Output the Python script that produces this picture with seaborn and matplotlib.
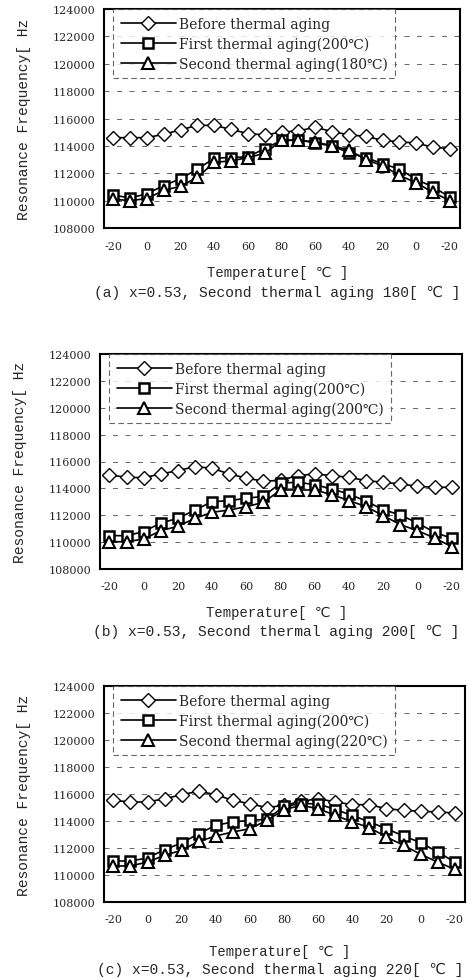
import matplotlib
matplotlib.use('Agg')
import matplotlib.pyplot as plt
import seaborn as sns
import pandas as pd
import numpy as np

sns.set_theme(style="white")
plt.rcParams['font.family'] = ['DejaVu Serif', 'DejaVu Sans']

MONO = ['Liberation Mono', 'DejaVu Sans Mono', 'DejaVu Sans']

# heating -20 -> 80, then cooling 70 -> -20
temps = [-20, -10, 0, 10, 20, 30, 40, 50, 60, 70, 80, 70, 60, 50, 40, 30, 20, 10, 0, -10, -20]
y_ticks = [108000, 110000, 112000, 114000, 116000, 118000, 120000, 122000, 124000]

# (a) second aging 180C
before_a = [114600, 114600, 114600, 114850, 115170, 115500, 115500, 115200, 114900, 114800, 115000,
            115100, 115350, 115050, 114800, 114700, 114400, 114300, 114200, 113900, 113800]
first_a = [110400, 110200, 110500, 111100, 111600, 112300, 113100, 113150, 113200, 113800, 114400,
           114450, 114200, 114000, 113500, 113150, 112700, 112300, 111550, 111000, 110250]
second_a = [110100, 110000, 110150, 110750, 111050, 111700, 112800, 112900, 113150, 113450, 114400,
            114400, 114300, 114000, 113700, 113000, 112550, 111850, 111300, 110600, 110000]

# (b) second aging 200C
before_b = [115000, 114820, 114800, 115070, 115320, 115620, 115500, 115070, 114770, 114530, 114600,
            114950, 115070, 114950, 114820, 114580, 114450, 114330, 114150, 114080, 114080]
first_b = [110480, 110480, 110780, 111420, 111770, 112390, 113010, 113090, 113260, 113410, 114400,
           114450, 114280, 113950, 113580, 113040, 112420, 112020, 111420, 110730, 110280]
second_b = [110030, 110030, 110230, 110850, 111180, 111770, 112220, 112390, 112640, 112960, 113880,
            113880, 113880, 113530, 113090, 112640, 111970, 111300, 110850, 110310, 109660]

# (c) second aging 220C
before_c = [115530, 115410, 115410, 115650, 115950, 116200, 115950, 115530, 115280, 114990, 115160,
            115460, 115650, 115410, 115210, 115210, 114910, 114790, 114720, 114670, 114590]
first_c = [111040, 111040, 111260, 111880, 112370, 113060, 113680, 113930, 114050, 114120, 115090,
           115280, 115280, 114840, 114420, 113930, 113430, 112890, 112400, 111700, 110960]
second_c = [110670, 110670, 110960, 111460, 111830, 112490, 112890, 113190, 113430, 114050, 114840,
            115160, 114910, 114420, 113930, 113510, 112810, 112200, 111530, 110960, 110420]

panels = [
    ('a', '180', before_a, first_a, second_a),
    ('b', '200', before_b, first_b, second_b),
    ('c', '220', before_c, first_c, second_c),
]

W, H = 467, 979
# axes boxes in pixels: left, top, right, bottom
boxes = [(104, 10, 460, 229), (100, 355, 462, 570), (104, 687, 465, 903)]
xlabel_y = [273, 613, 952]
caption_y = [293, 632, 970]

fig = plt.figure(figsize=(W / 100, H / 100), dpi=100)

for (tag, t2, before, first, second), (l, t, r, b), yx, yc in zip(panels, boxes, xlabel_y, caption_y):
    ax = fig.add_axes([l / W, 1 - b / H, (r - l) / W, (b - t) / H])
    idx = np.arange(len(temps))
    df = pd.DataFrame({'idx': idx, 'before': before, 'first': first, 'second': second})

    for y in y_ticks[1:-1]:
        ax.axhline(y, color='0.3', lw=0.6, ls=(0, (6, 9)), zorder=0)

    sns.lineplot(data=df, x='idx', y='before', ax=ax, color='black', lw=1.2,
                 marker='D', markersize=7, markerfacecolor='white', markeredgecolor='black',
                 markeredgewidth=1.0, label='Before thermal aging')
    sns.lineplot(data=df, x='idx', y='first', ax=ax, color='black', lw=1.2,
                 marker='s', markersize=7.5, markerfacecolor='white', markeredgecolor='black',
                 markeredgewidth=1.8, label='First thermal aging(200℃)')
    sns.lineplot(data=df, x='idx', y='second', ax=ax, color='black', lw=1.2,
                 marker='^', markersize=8, markerfacecolor='white', markeredgecolor='black',
                 markeredgewidth=1.5, label=f'Second thermal aging({t2}℃)')

    ax.set_xlim(-0.55, len(temps) - 1 + 0.6)
    ax.set_ylim(y_ticks[0], y_ticks[-1])
    ax.set_yticks(y_ticks)
    ax.set_yticklabels([str(v) for v in y_ticks])
    ax.set_xticks(idx[::2])
    ax.set_xticklabels([str(v) for v in temps[::2]])
    ax.set_xticks(idx, minor=True)
    ax.tick_params(axis='x', which='both', direction='in', length=3, width=0.8,
                   labelsize=8, pad=9, color='black')
    ax.tick_params(axis='y', direction='out', length=3, width=0.8, labelsize=8, pad=3, color='black')
    ax.set_xlabel('')
    ax.set_ylabel('Resonance Frequency[ Hz', fontsize=10.5, family=MONO, labelpad=16)
    for s in ax.spines.values():
        s.set_visible(True)
        s.set_color('black')
        s.set_linewidth(1.5)

    leg = ax.legend(loc='upper left', bbox_to_anchor=(0.025, 1.0), borderaxespad=0,
                    fontsize=10, handlelength=4.0, handletextpad=0.2, labelspacing=0.4,
                    frameon=True, fancybox=False, borderpad=0.55)
    frame = leg.get_frame()
    frame.set_edgecolor('0.25')
    frame.set_linewidth(0.8)
    frame.set_linestyle((0, (5, 3)))

    cx = (l + r) / 2 / W
    fig.text(cx - 0.01, 1 - yx / H, 'Temperature[ ℃ ]', ha='center', va='center',
             fontsize=10, family=MONO)
    fig.text(cx - 0.01, 1 - yc / H, f'({tag}) x=0.53, Second thermal aging {t2}[ ℃ ]',
             ha='center', va='center', fontsize=10.5, family=MONO)

fig.savefig('out.png', dpi=100)
